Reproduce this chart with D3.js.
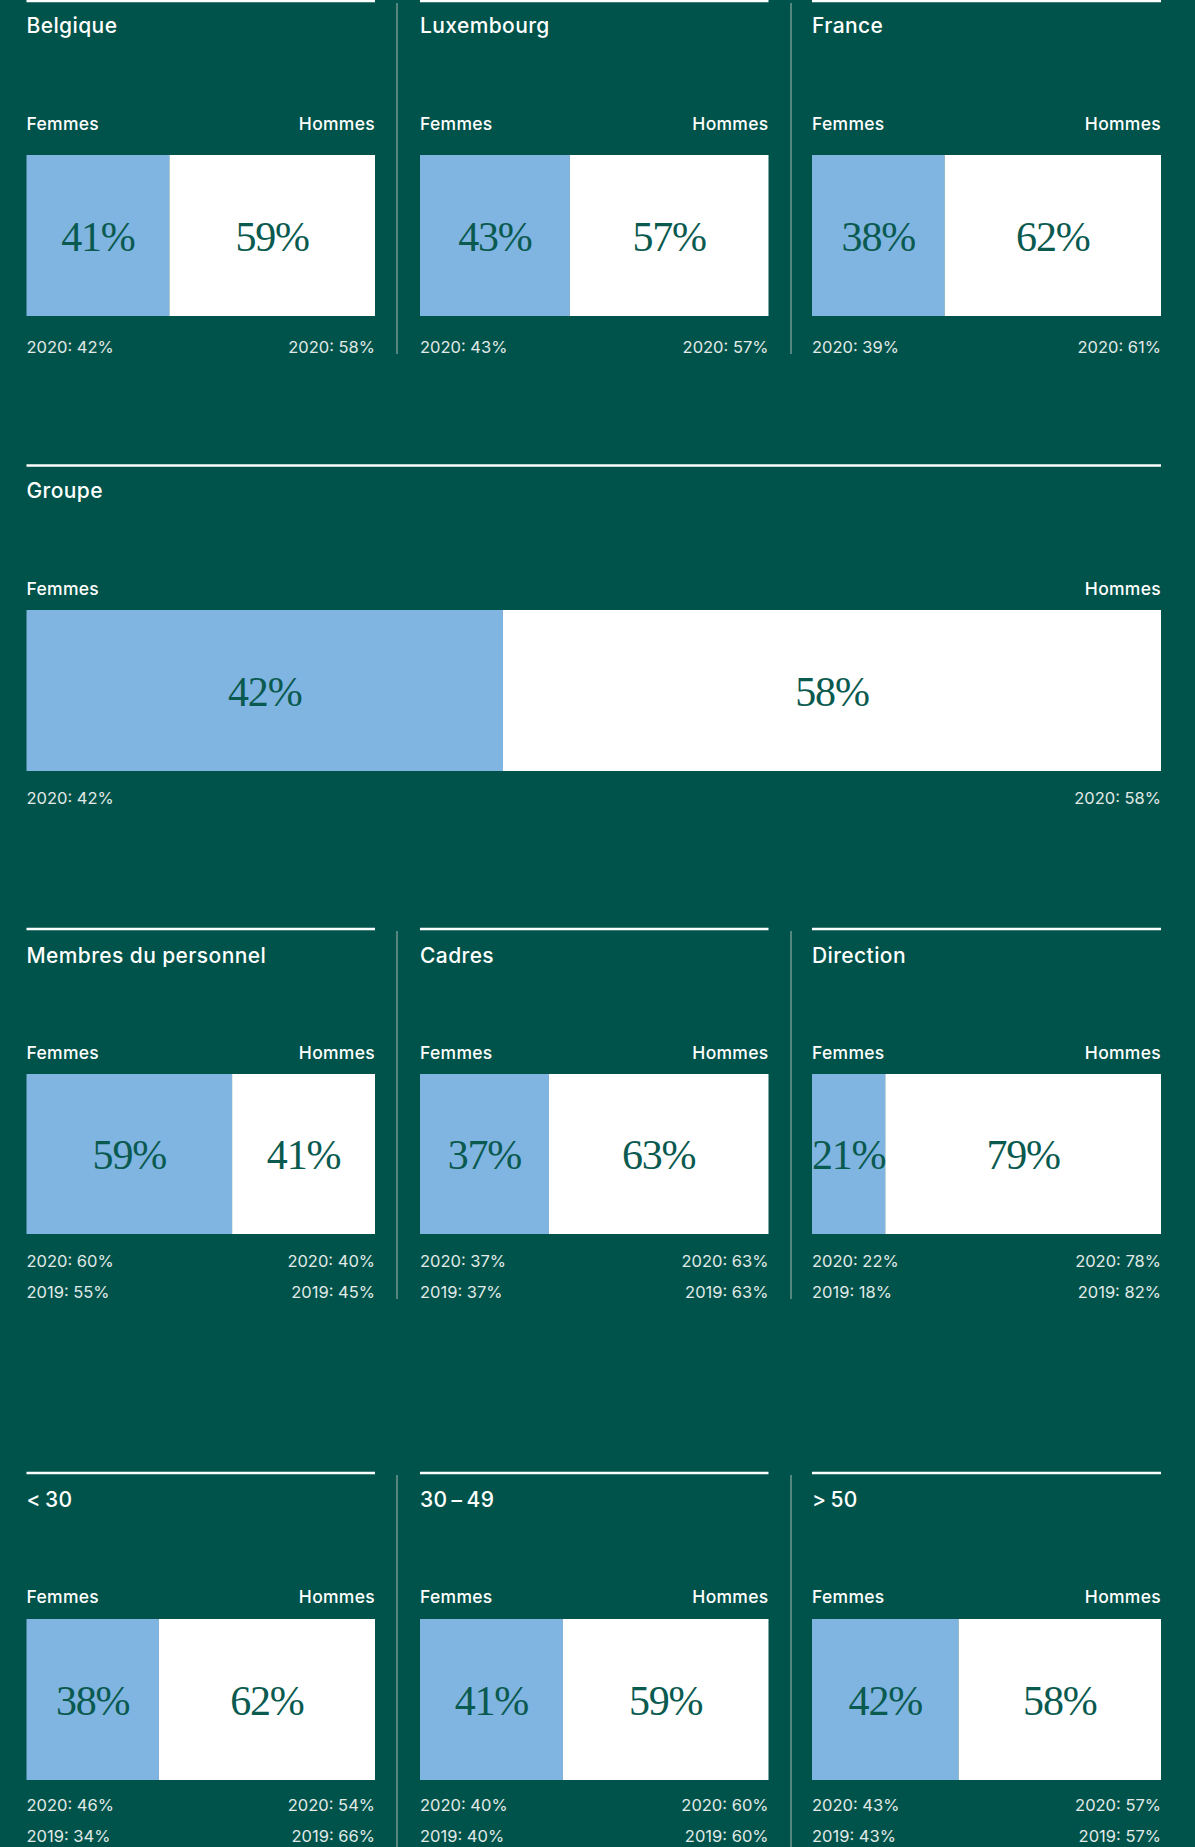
<!DOCTYPE html>
<html>
<head>
<meta charset="utf-8">
<script src="https://cdn.jsdelivr.net/npm/d3@7"></script>
<style>
  html, body { margin: 0; padding: 0; background: #00534a; }
  svg { display: block; }
</style>
</head>
<body>
<script>
'use strict';

// panels, in reading order
const panelTitles = ['Belgique', 'Luxembourg', 'France', 'Groupe',
  'Membres du personnel', 'Cadres', 'Direction', '<\u200930', '30\u2009\u2013\u200949', '>\u200950'];
const panelRow = [0, 0, 0, 1, 2, 2, 2, 3, 3, 3];

const femmes = [41, 43, 38, 42, 59, 37, 21, 38, 41, 42];
const hommes = [59, 57, 62, 58, 41, 63, 79, 62, 59, 58];
const femmes2020 = [42, 43, 39, 42, 60, 37, 22, 46, 40, 43];
const hommes2020 = [58, 57, 61, 58, 40, 63, 78, 54, 60, 57];
const femmes2019 = [null, null, null, null, 55, 37, 18, 34, 40, 43];
const hommes2019 = [null, null, null, null, 45, 63, 82, 66, 60, 57];

const seriesLabels = ['Femmes', 'Hommes'];

const width = 1195;
const height = 1847;

const colors = {
  bg: '#00534a',
  femmes: '#80b4e1',
  hommes: '#ffffff',
  value: '#0a5a4f',
  text: '#ffffff',
  note: '#e2eae8',
  divider: '#8eaaa5'
};

const sans = 'Inter, "Noto Sans", sans-serif';

// vertical layout of each row (line, title, labels, bar, notes)
const rows = [
  {line: 1, title: 33, label: 130, barTop: 155, barBottom: 316, note: 353, divTop: 3, divBottom: 354},
  {line: 465.5, title: 498, label: 595, barTop: 610, barBottom: 771, note: 804},
  {line: 929, title: 963, label: 1059, barTop: 1074, barBottom: 1234, note: 1267, divTop: 931, divBottom: 1299},
  {line: 1473, title: 1507, label: 1603, barTop: 1619, barBottom: 1780, note: 1811, divTop: 1475, divBottom: 1847}
];
const noteStep = 31;

const columns = [[26.5, 375], [420, 768.5], [812, 1161]];
const dividers = [397, 791];

const svg = d3.select('body').append('svg')
  .attr('width', width)
  .attr('height', height);

svg.append('rect')
  .attr('width', width)
  .attr('height', height)
  .attr('fill', colors.bg);

// thin vertical dividers between the three columns
rows.filter(r => r.divTop !== undefined).forEach(r => {
  svg.append('g').selectAll('line')
    .data(dividers)
    .join('line')
    .attr('x1', d => d).attr('x2', d => d)
    .attr('y1', r.divTop).attr('y2', r.divBottom)
    .attr('stroke', colors.divider)
    .attr('stroke-width', 1.2);
});

const rowCounters = {};

panelTitles.forEach((title, i) => {
  const rowIndex = panelRow[i];
  const row = rows[rowIndex];
  const count = panelRow.filter(r => r === rowIndex).length;
  const col = rowCounters[rowIndex] || 0;
  rowCounters[rowIndex] = col + 1;

  const x0 = count === 1 ? columns[0][0] : columns[col][0];
  const x1 = count === 1 ? columns[2][1] : columns[col][1];

  const x = d3.scaleLinear().domain([0, 100]).range([x0, x1]);

  const g = svg.append('g');

  g.append('line')
    .attr('x1', x0).attr('x2', x1)
    .attr('y1', row.line).attr('y2', row.line)
    .attr('stroke', '#ffffff')
    .attr('stroke-width', 2.5);

  g.append('text')
    .attr('x', x0)
    .attr('y', row.title)
    .attr('fill', colors.text)
    .attr('font-family', sans)
    .attr('font-weight', 500)
    .attr('font-size', 21)
    .attr('letter-spacing', 0.4)
    .text(title);

  g.selectAll('text.series')
    .data(seriesLabels)
    .join('text')
    .attr('class', 'series')
    .attr('x', (d, k) => k === 0 ? x(0) : x(100))
    .attr('y', row.label)
    .attr('text-anchor', (d, k) => k === 0 ? 'start' : 'end')
    .attr('fill', colors.text)
    .attr('font-family', sans)
    .attr('font-weight', 500)
    .attr('font-size', 17.5)
    .attr('letter-spacing', 0.3)
    .text(d => d);

  const segments = [
    {from: 0, to: femmes[i], fill: colors.femmes, value: femmes[i]},
    {from: femmes[i], to: 100, fill: colors.hommes, value: hommes[i]}
  ];

  g.selectAll('rect.seg')
    .data(segments)
    .join('rect')
    .attr('class', 'seg')
    .attr('x', d => x(d.from))
    .attr('width', d => x(d.to) - x(d.from))
    .attr('y', row.barTop)
    .attr('height', row.barBottom - row.barTop)
    .attr('fill', d => d.fill);

  const midY = (row.barTop + row.barBottom) / 2;

  g.selectAll('text.value')
    .data(segments)
    .join('text')
    .attr('class', 'value')
    .attr('x', d => (x(d.from) + x(d.to)) / 2)
    .attr('y', midY + 15)
    .attr('text-anchor', 'middle')
    .attr('fill', colors.value)
    .attr('font-family', '"Liberation Serif", "DejaVu Serif", serif')
    .attr('font-size', 42)
    .attr('letter-spacing', -1.2)
    .text(d => d.value + '%');

  const notes = [
    {year: 2020, f: femmes2020[i], h: hommes2020[i]},
    {year: 2019, f: femmes2019[i], h: hommes2019[i]}
  ].filter(n => n.f !== null);

  notes.forEach((n, k) => {
    const y = row.note + k * noteStep;
    [[n.f, x(0), 'start'], [n.h, x(100), 'end']].forEach(([v, px, anchor]) => {
      g.append('text')
        .attr('x', px)
        .attr('y', y)
        .attr('text-anchor', anchor)
        .attr('fill', colors.note)
        .attr('font-family', sans)
        .attr('font-weight', 400)
        .attr('font-size', 16.5)
        .text(n.year + ': ' + v + '%');
    });
  });
});
</script>
</body>
</html>
